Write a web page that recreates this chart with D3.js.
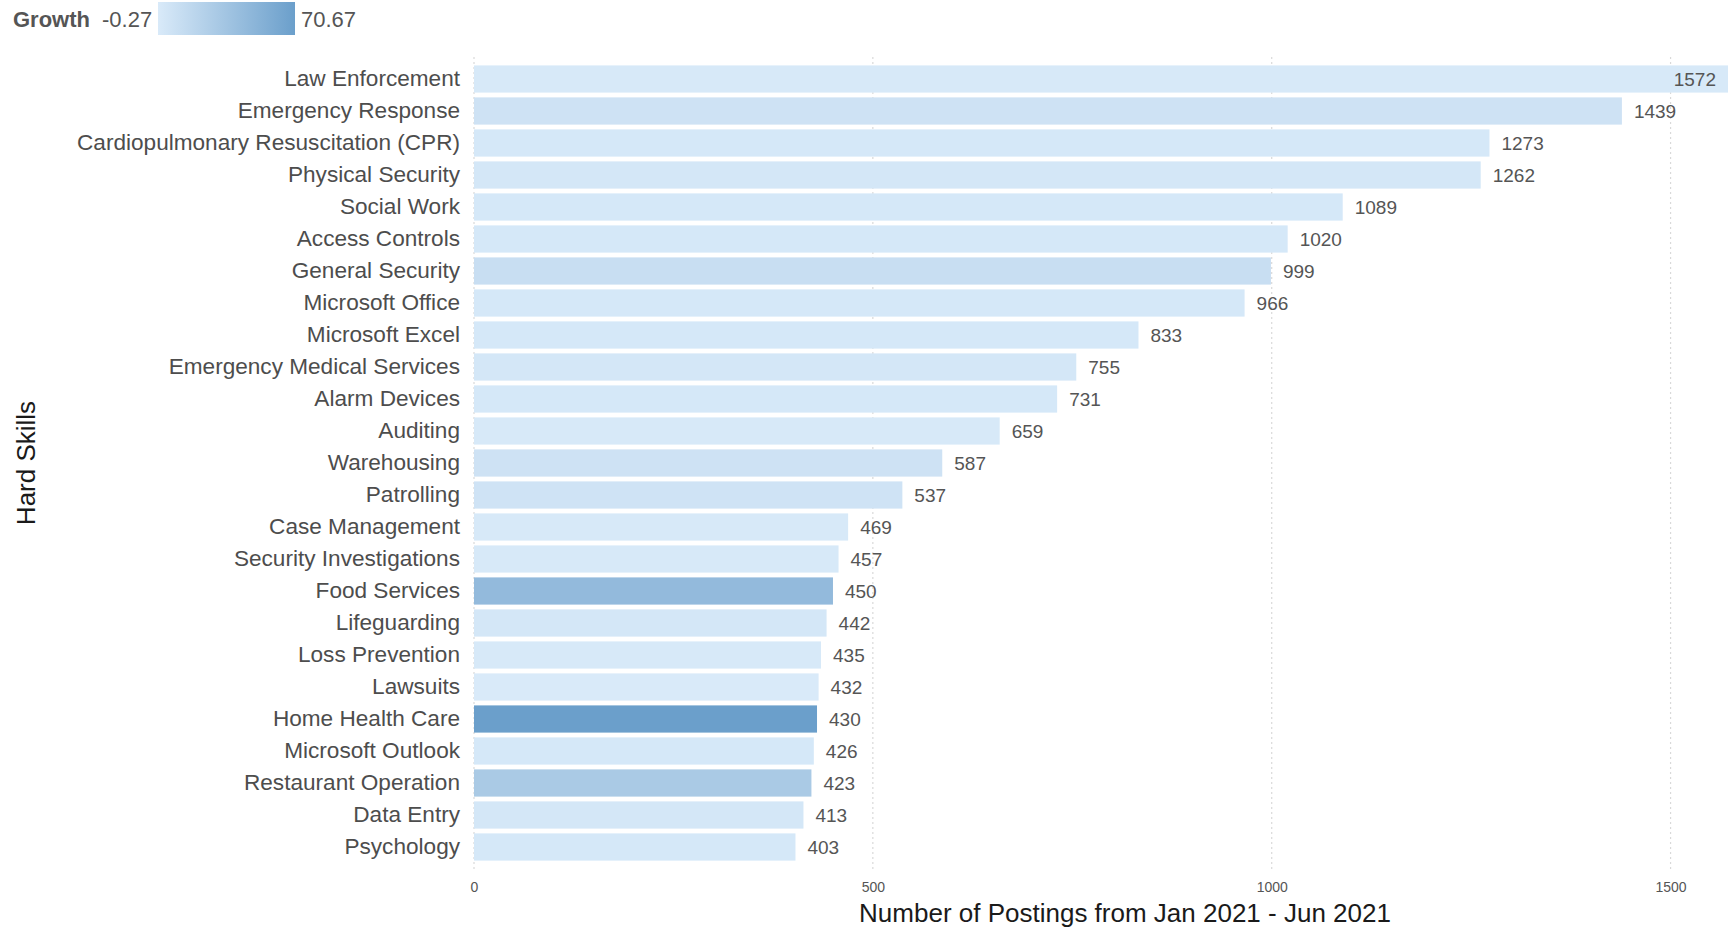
<!DOCTYPE html>
<html>
<head>
<meta charset="utf-8">
<script src="https://cdn.jsdelivr.net/npm/d3@7"></script>
<style>
  html, body { margin: 0; padding: 0; background: #fff; }
  svg { display: block; font-family: "Liberation Sans", Arial, sans-serif; }
</style>
</head>
<body>
<svg id="viz" width="1731" height="929"></svg>
<script>
// Data

var skills = ["Law Enforcement", "Emergency Response", "Cardiopulmonary Resuscitation (CPR)",
	"Physical Security", "Social Work", "Access Controls", "General Security", "Microsoft Office",
	"Microsoft Excel", "Emergency Medical Services", "Alarm Devices", "Auditing", "Warehousing",
	"Patrolling", "Case Management", "Security Investigations", "Food Services", "Lifeguarding",
	"Loss Prevention", "Lawsuits", "Home Health Care", "Microsoft Outlook", "Restaurant Operation",
	"Data Entry", "Psychology"];

var postings = [1572, 1439, 1273, 1262, 1089, 1020, 999, 966, 833, 755, 731, 659, 587, 537,
	469, 457, 450, 442, 435, 432, 430, 426, 423, 413, 403];

// growth only shows through the fill colour, so these are estimates
var growth = [1, 7, 2, 3, 2, 2, 11, 2, 2, 3, 2, 1, 7, 6, 1, 1, 45, 3, 1, -0.27, 70.67, 2, 30, 3, 2];

var xTicks = [0, 500, 1000, 1500];
var growthRange = [-0.27, 70.67];

var data = skills.map((s, i) => ({skill: s, n: postings[i], g: growth[i]}));

// Svg canvas

var svg = d3.select("svg"),
	width = +svg.attr("width"),
	height = +svg.attr("height");

var x = d3.scaleLinear()
	.domain([0, d3.max(postings)])
	.range([474, 1728]);

var y = d3.scaleBand()
	.domain(skills)
	.range([63, 863])
	.paddingInner(0.15)
	.paddingOuter(0.075);

var colour = d3.scaleLinear()
	.domain(growthRange)
	.range(["#d9eaf9", "#6b9fcb"]);

// Dotted vertical grid

svg.append("g")
	.attr("class", "grid")
	.selectAll("line")
	.data(xTicks)
	.enter()
	.append("line")
	.attr("x1", d => x(d))
	.attr("x2", d => x(d))
	.attr("y1", 57)
	.attr("y2", 872)
	.style("stroke", "#d9d9d9")
	.style("stroke-width", 1.2)
	.style("stroke-dasharray", "2,3");

// Bars

svg.append("g")
	.attr("class", "bars")
	.selectAll("rect")
	.data(data)
	.enter()
	.append("rect")
	.attr("x", x(0))
	.attr("y", d => y(d.skill))
	.attr("width", d => x(d.n) - x(0))
	.attr("height", y.bandwidth())
	.attr("fill", d => colour(d.g));

// Value labels, the longest bar keeps its label inside

svg.append("g")
	.attr("class", "values")
	.selectAll("text")
	.data(data)
	.enter()
	.append("text")
	.attr("x", d => x(d.n) + 12 > 1680 ? x(d.n) - 12 : x(d.n) + 12)
	.attr("y", d => y(d.skill) + y.bandwidth() / 2)
	.attr("dy", "0.36em")
	.attr("text-anchor", d => x(d.n) + 12 > 1680 ? "end" : "start")
	.style("font-size", "19px")
	.style("fill", "#555")
	.text(d => d.n);

// Category axis

var yAxis = svg.append("g")
	.attr("transform", "translate(" + (x(0) - 14) + ",0)")
	.call(d3.axisLeft(y).tickSize(0).tickPadding(0));
yAxis.select(".domain").remove();
yAxis.selectAll("text")
	.style("font-size", "22.6px")
	.style("font-family", "'Liberation Sans', Arial, sans-serif")
	.style("fill", "#4d4d4d");

// Value axis

var xAxis = svg.append("g")
	.attr("transform", "translate(0,878)")
	.call(d3.axisBottom(x).tickValues(xTicks).tickFormat(d3.format("d")).tickSize(0).tickPadding(4));
xAxis.select(".domain").remove();
xAxis.selectAll("text")
	.style("font-size", "14px")
	.style("font-family", "'Liberation Sans', Arial, sans-serif")
	.style("fill", "#555");

// Axis titles

svg.append("text")
	.attr("x", 1125)
	.attr("y", 922)
	.attr("text-anchor", "middle")
	.style("font-size", "26px")
	.style("fill", "#1a1a1a")
	.text("Number of Postings from Jan 2021 - Jun 2021");

svg.append("text")
	.attr("transform", "translate(35," + ((y.range()[0] + y.range()[1]) / 2) + ") rotate(-90)")
	.attr("text-anchor", "middle")
	.style("font-size", "26px")
	.style("fill", "#1a1a1a")
	.text("Hard Skills");

// Growth legend

var defs = svg.append("defs");
var grad = defs.append("linearGradient")
	.attr("id", "growthGrad");
grad.selectAll("stop")
	.data(growthRange)
	.enter()
	.append("stop")
	.attr("offset", (d, i) => i * 100 + "%")
	.attr("stop-color", d => colour(d));

var legend = svg.append("g").attr("class", "legend");

legend.append("text")
	.attr("x", 13)
	.attr("y", 27)
	.style("font-size", "22px")
	.style("font-weight", "bold")
	.style("fill", "#555")
	.text("Growth");

legend.append("text")
	.attr("x", 102)
	.attr("y", 27)
	.style("font-size", "22px")
	.style("fill", "#555")
	.text(growthRange[0]);

legend.append("rect")
	.attr("x", 158)
	.attr("y", 2)
	.attr("width", 137)
	.attr("height", 33)
	.attr("fill", "url(#growthGrad)");

legend.append("text")
	.attr("x", 301)
	.attr("y", 27)
	.style("font-size", "22px")
	.style("fill", "#555")
	.text(growthRange[1]);
</script>
</body>
</html>
